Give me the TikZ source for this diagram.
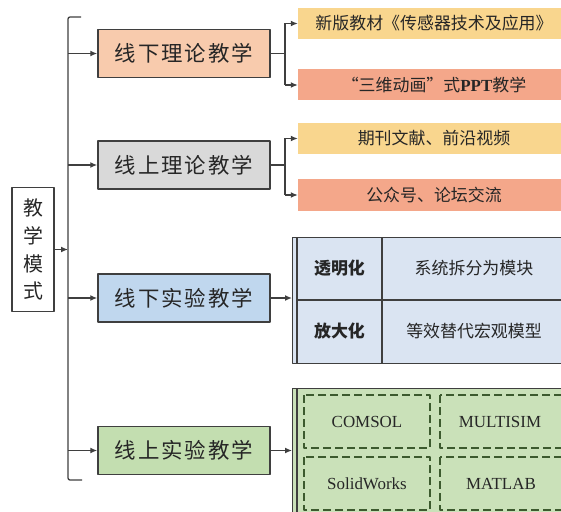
\documentclass[tikz,border=0pt]{standalone}
\usepackage{fontspec}
\setmainfont{Noto Sans CJK SC}
\newfontfamily\lat{Liberation Serif}
\usetikzlibrary{arrows.meta}
\definecolor{lineC}{HTML}{3F3F3F}
\definecolor{txtC}{HTML}{262626}
\definecolor{peach}{HTML}{F8CBAD}
\definecolor{grayB}{HTML}{D9D9D9}
\definecolor{blueB}{HTML}{C0D7EE}
\definecolor{greenB}{HTML}{C3DEB0}
\definecolor{yellowI}{HTML}{F9D68E}
\definecolor{salmonI}{HTML}{F4A78A}
\definecolor{blueT}{HTML}{DAE4F2}
\definecolor{greenT}{HTML}{CAE1B9}
\definecolor{dashC}{HTML}{3C5A2E}
\begin{document}
\begin{tikzpicture}[x=1bp,y=-1bp,line join=round,
  ln/.style={draw=lineC,line width=1.3bp},
  arr/.style={ln,-{Latex[length=7bp,width=6bp]}},
  mainbox/.style={draw=lineC,line width=1.5bp,minimum width=172bp,minimum height=48bp,inner sep=0pt,
    font=\fontsize{21.5}{21.5}\selectfont\addfontfeature{LetterSpace=9},text=txtC},
  item/.style={minimum width=272bp,minimum height=31bp,inner sep=0pt,font=\fontsize{17}{17}\selectfont,text=txtC},
  cell/.style={inner sep=0pt,font=\fontsize{17}{17}\selectfont,text=txtC},
  tbl/.style={draw=lineC,line width=1.4bp,inner sep=0pt,anchor=north west},
  dbox/.style={draw=dashC,line width=1.5bp,dash pattern=on 8bp off 4bp},
  latc/.style={inner sep=0pt,font=\lat\fontsize{17}{17}\selectfont,text=txtC},
]
\useasboundingbox (0,0) rectangle (561,512);
\clip (0,0) rectangle (561,512);

% left box
\node[draw=lineC,line width=1.5bp,minimum width=42bp,minimum height=124bp,inner sep=0pt,
  align=center,font=\fontsize{20}{28}\selectfont,text=txtC] (L) at (33,249.5) {教\\学\\模\\式};

% main bracket
\coordinate (bt) at (68,17);
\coordinate (bb) at (68,480);
\draw[ln,rounded corners=2bp] (81,17) -- (bt) -- (bb) -- (82,480);

% main boxes
\node[mainbox,fill=peach] (b1) at (184,53.5) {线下理论教学};
\node[mainbox,fill=grayB] (b2) at (184,165) {线上理论教学};
\node[mainbox,fill=blueB] (b3) at (184,298) {线下实验教学};
\node[mainbox,fill=greenB] (b4) at (184,450.5) {线上实验教学};

\draw[arr] (L.east) -- (L.east -| bt);
\foreach \b in {b1,b2,b3,b4}{\draw[arr] (\b.west -| bt) -- (\b.west);}

% items
\node[item,fill=yellowI] (i1) at (434,23.5) {新版教材《传感器技术及应用》};
\node[item,fill=salmonI] (i2) at (434,85) {“三维动画”式\textbf{\lat PPT}教学};
\node[item,fill=yellowI] (i3) at (434,138.5) {期刊文献、前沿视频};
\node[item,fill=salmonI] (i4) at (434,195) {公众号、论坛交流};

\coordinate (r) at (285,0);
\draw[ln] (b1.east) -- (b1.east -| r);
\draw[ln] (i1.west -| r) -- (i2.west -| r);
\draw[arr] (i1.west -| r) -- (i1.west);
\draw[arr] (i2.west -| r) -- (i2.west);
\draw[ln] (b2.east) -- (b2.east -| r);
\draw[ln] (i3.west -| r) -- (i4.west -| r);
\draw[arr] (i3.west -| r) -- (i3.west);
\draw[arr] (i4.west -| r) -- (i4.west);

% blue table
\node[tbl,fill=blueT,minimum width=280bp,minimum height=126bp] (T3) at (292,237) {};
\draw[arr] (b3.east) -- (b3.east -| T3.west);
\draw[ln] (297,237) -- (297,363);
\draw[ln] (297,300) -- (575,300);
\draw[ln] (382,237) -- (382,363);
\node[cell,font=\fontsize{17}{17}\selectfont\bfseries] (c1) at (339.5,268.5) {透明化};
\node[cell] (c2) at (474,268.5) {系统拆分为模块};
\node[cell,font=\fontsize{17}{17}\selectfont\bfseries] (c3) at (339.5,331.5) {放大化};
\node[cell] (c4) at (474,331.5) {等效替代宏观模型};

% green table
\node[tbl,fill=greenT,minimum width=280bp,minimum height=150bp] (T4) at (292,388) {};
\draw[arr] (b4.east) -- (b4.east -| T4.west);
\draw[ln] (297,388) -- (297,540);
\draw[dbox] (304,395) rectangle (430,448);
\draw[dbox] (440,395) rectangle (580,448);
\draw[dbox] (304,457) rectangle (430,510);
\draw[dbox] (440,457) rectangle (580,510);
\node[latc] (s1) at (367,421.5) {COMSOL};
\node[latc] (s2) at (500,421.5) {MULTISIM};
\node[latc] (s3) at (367,483.5) {SolidWorks};
\node[latc] (s4) at (501,483.5) {MATLAB};
\end{tikzpicture}
\end{document}
